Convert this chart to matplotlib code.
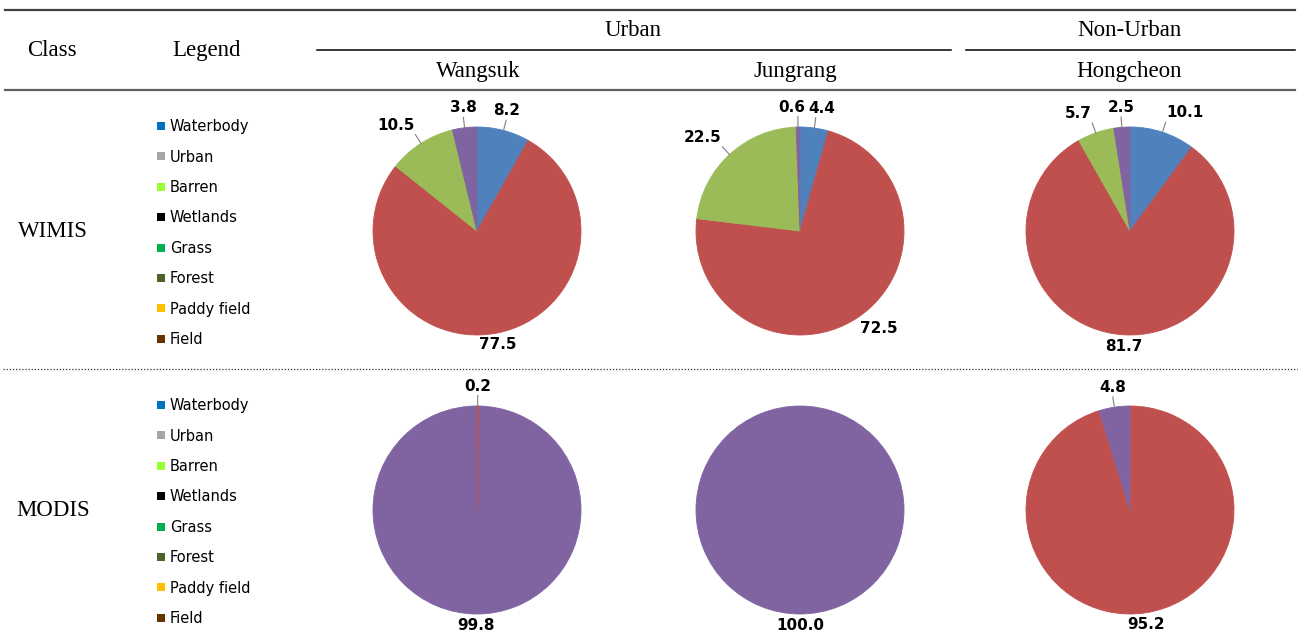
import numpy as np
import matplotlib
matplotlib.use("Agg")
import matplotlib.pyplot as plt

W, H = 1298, 644

# legend classes
classes = ['Waterbody', 'Urban', 'Barren', 'Wetlands', 'Grass', 'Forest', 'Paddy field', 'Field']
class_colors = ['#0070C0', '#A6A6A6', '#99FF33', '#000000', '#00B050', '#4F6228', '#FFC000', '#663300']

# pie slices, clockwise from 12 o'clock: blue, red, green, purple
slice_colors = ['#4F81BD', '#C0504D', '#9BBB59', '#8064A2']
wimis_wangsuk = [8.2, 77.5, 10.5, 3.8]
wimis_jungrang = [4.4, 72.5, 22.5, 0.6]
wimis_hongcheon = [10.1, 81.7, 5.7, 2.5]
modis_wangsuk = [0.0, 0.2, 0.0, 99.8]
modis_jungrang = [0.0, 0.0, 0.0, 100.0]
modis_hongcheon = [0.0, 95.2, 0.0, 4.8]

products = ['WIMIS', 'MODIS']
sites = ['Wangsuk', 'Jungrang', 'Hongcheon']
groups = ['Urban', 'Non-Urban']
pies = [[wimis_wangsuk, wimis_jungrang, wimis_hongcheon],
        [modis_wangsuk, modis_jungrang, modis_hongcheon]]

# layout in pixels
col_x = [477, 800, 1130]
row_y = [231, 510]
R = 104
serif = 'Liberation Serif'

fig = plt.figure(figsize=(W / 100, H / 100), dpi=100)
bg = fig.add_axes([0, 0, 1, 1])
bg.set_xlim(0, W)
bg.set_ylim(H, 0)
bg.axis('off')

# table rules
bg.plot([5, 1295], [10, 10], color='#404040', lw=1.6)
bg.plot([317, 951], [50, 50], color='black', lw=1.1)
bg.plot([966, 1295], [50, 50], color='black', lw=1.1)
bg.plot([5, 1295], [90, 90], color='#606060', lw=1.6)
bg.plot([3, 1298], [369, 369], color='#333333', lw=0.9, linestyle=(0, (1, 1.5)))

# header
hdr = dict(family=serif, fontsize=16.5, ha='center', va='center')
bg.text(52, 50, 'Class', **hdr)
bg.text(207, 50, 'Legend', **hdr)
bg.text(633, 30, groups[0], **hdr)
bg.text(1129, 30, groups[1], **hdr)
for x, s in zip([478, 795, 1129], sites):
    bg.text(x, 71, s, **hdr)

for ry, prod in zip(row_y, products):
    bg.text(53, ry, prod, **hdr)
    ys = ry - 105 + 30.4 * np.arange(len(classes))
    bg.scatter(np.full(len(classes), 161), ys, marker='s', s=32, c=class_colors, linewidths=0)
    for y, name in zip(ys, classes):
        bg.text(170, y + 5.2, name, fontsize=10.5, family='DejaVu Sans', va='baseline', ha='left')


def draw_pie(ax, values):
    vals = np.array(values)
    keep = vals > 0
    wedges, _ = ax.pie(vals[keep], colors=np.array(slice_colors)[keep], startangle=90,
                       counterclock=False, radius=1, wedgeprops=dict(linewidth=0.6))
    for w, v in zip(wedges, vals[keep]):
        w.set_edgecolor(w.get_facecolor())
        if v < 1:
            w.set_zorder(3)  # keep the thin sliver visible on top
    ax.set_xlim(-1, 1)
    ax.set_ylim(-1, 1)
    ax.set_aspect('equal')
    ax.axis('off')
    texts = []
    for w, v in zip(wedges, vals[keep]):
        ang = np.deg2rad((w.theta1 + w.theta2) / 2)
        c, s = np.cos(ang), np.sin(ang)
        small = v < 30
        rl = 1.12 if small else 1.04
        if small:
            ax.plot([c, 1.1 * c], [s, 1.1 * s], color='#7f7f7f', lw=0.8, clip_on=False)
        ha = 'left' if c > 0.3 else 'right' if c < -0.3 else 'center'
        va = 'bottom' if s > 0.3 else 'top' if s < -0.3 else 'center'
        texts.append(ax.text(rl * c, rl * s, f'{v:.1f}', ha=ha, va=va, fontsize=11,
                             fontweight='bold', family='DejaVu Sans', clip_on=False))
    return texts


renderer = fig.canvas.get_renderer()
for ry, row in zip(row_y, pies):
    for cx, vals in zip(col_x, row):
        ax = fig.add_axes([(cx - R) / W, 1 - (ry + R) / H, 2 * R / W, 2 * R / H])
        texts = draw_pie(ax, vals)
        # push apart labels that collide
        for i in range(len(texts)):
            for j in range(i + 1, len(texts)):
                a = texts[i].get_window_extent(renderer)
                b = texts[j].get_window_extent(renderer)
                ov = min(a.x1, b.x1) - max(a.x0, b.x0) + 3
                if ov > 0 and min(a.y1, b.y1) > max(a.y0, b.y0):
                    lt, rt = (texts[i], texts[j]) if a.x0 < b.x0 else (texts[j], texts[i])
                    d = ov / 2 / R
                    lt.set_x(lt.get_position()[0] - d)
                    rt.set_x(rt.get_position()[0] + d)

fig.savefig('out.png', dpi=100)
